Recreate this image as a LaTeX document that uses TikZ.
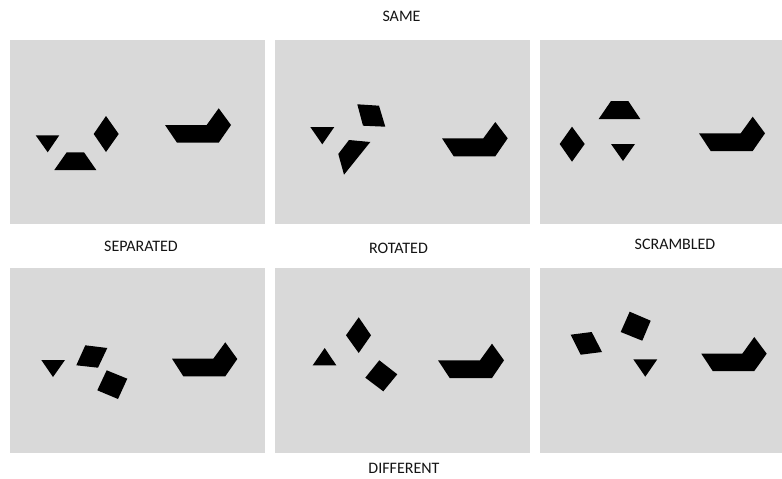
\documentclass[tikz,border=0pt]{standalone}
\usepackage{fontspec}
\setmainfont{Carlito}
\definecolor{panelgray}{RGB}{217,217,217}
\definecolor{labelcol}{RGB}{20,20,20}
\begin{document}
\begin{tikzpicture}[x=1pt,y=-1pt,
  panel/.style={fill=panelgray,draw=none},
  piece/.style={fill=black,draw=none},
  lbl/.style={font=\fontsize{16}{19}\selectfont,text=labelcol,inner sep=0pt,anchor=center}]
\useasboundingbox[fill=white] (0,0) rectangle (782,479);
% panels
\fill[panel] (10,39.5) rectangle (264.5,224);
\fill[panel] (274.5,39.5) rectangle (530,224);
\fill[panel] (540,39.5) rectangle (782,224);
\fill[panel] (10,267.5) rectangle (264.5,452.5);
\fill[panel] (274.5,267.5) rectangle (530,452.5);
\fill[panel] (540,267.5) rectangle (782,452.5);
% labels
\node[lbl] (same) at (401.5,16) {SAME};
\node[lbl] (separated) at (141,246) {SEPARATED};
\node[lbl] (rotated) at (398.5,248) {ROTATED};
\node[lbl] (scrambled) at (675,244) {SCRAMBLED};
\node[lbl] (different) at (404,468) {DIFFERENT};
% panel 1
\fill[piece] (35.7,135.3) -- (59.3,135.3) -- (47.7,152.3) -- cycle;
\fill[piece] (54.3,170) -- (96.3,170) -- (84,152.3) -- (66.7,152.3) -- cycle;
\fill[piece] (106,116) -- (118.7,134) -- (106,152) -- (93.7,134) -- cycle;
\fill[piece] (165,125) -- (206.7,125) -- (218.7,108.3) -- (231,125) -- (218.7,142.7) -- (177,142.7) -- cycle;
% panel 2
\fill[piece] (310.3,127) -- (334.3,127) -- (322.3,144.3) -- cycle;
\fill[piece] (357.3,104.3) -- (379,105.7) -- (385.3,126.7) -- (363,125.7) -- cycle;
\fill[piece] (349,140) -- (370.3,142) -- (344,174.7) -- (338.3,154) -- cycle;
\fill[piece] (442,138.3) -- (483.3,138.3) -- (495.3,122) -- (507.7,138.3) -- (495.3,156.3) -- (453.7,156.3) -- cycle;
% panel 3
\fill[piece] (611,101) -- (628.3,101) -- (640.3,119) -- (598.7,119) -- cycle;
\fill[piece] (572,126.7) -- (584.7,144) -- (572,161.7) -- (559.7,144) -- cycle;
\fill[piece] (611,144) -- (635,144) -- (623,161) -- cycle;
\fill[piece] (699,133.3) -- (740.7,133.3) -- (752.7,116.7) -- (765,133.3) -- (752.7,151) -- (710.7,151) -- cycle;
% panel 4
\fill[piece] (41.3,360) -- (65,360) -- (53,377) -- cycle;
\fill[piece] (85.3,345.3) -- (107.3,348) -- (98,367.7) -- (76.3,365.3) -- cycle;
\fill[piece] (106.7,370.3) -- (127.3,378.7) -- (118,399) -- (97.3,390.3) -- cycle;
\fill[piece] (172,358.7) -- (213.3,358.7) -- (225.3,342.3) -- (237.3,359) -- (225.3,376.3) -- (183.3,376.3) -- cycle;
% panel 5
\fill[piece] (324.7,348) -- (336.3,365.3) -- (312.7,365.3) -- cycle;
\fill[piece] (358.7,317.3) -- (371,335.3) -- (358.7,353) -- (346,335.3) -- cycle;
\fill[piece] (379.3,360.3) -- (397.3,374.3) -- (383.3,391.3) -- (365.3,377.7) -- cycle;
\fill[piece] (438,360.3) -- (480,360.3) -- (492,343.7) -- (504,360.3) -- (492,378) -- (449.7,378) -- cycle;
% panel 6
\fill[piece] (570.7,334.7) -- (591.7,332) -- (602,352) -- (580.7,354.7) -- cycle;
\fill[piece] (629.7,311.7) -- (650.7,320.7) -- (642.3,340.7) -- (620.7,332) -- cycle;
\fill[piece] (633.3,359.3) -- (657.3,359.3) -- (645.3,376.7) -- cycle;
\fill[piece] (701.3,353.7) -- (742.3,353.7) -- (754.3,337) -- (766.7,353.7) -- (754.3,371) -- (712.7,371) -- cycle;
\end{tikzpicture}
\end{document}
